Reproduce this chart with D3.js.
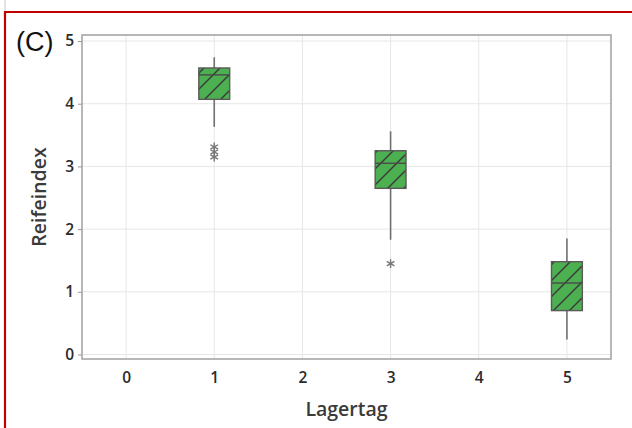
<!DOCTYPE html>
<html>
<head>
<meta charset="utf-8">
<script src="https://cdn.jsdelivr.net/npm/d3@7"></script>
<style>
  html, body { margin: 0; padding: 0; background: #fff; }
  svg { display: block; }
</style>
</head>
<body>
<svg id="chart" width="632" height="428"></svg>
<script>
// Reifeindex je Lagertag (Boxplots)
const days = [1, 3, 5];
const whiskerLow = [3.63, 1.83, 0.24];
const q1 = [4.07, 2.65, 0.70];
const medians = [4.46, 3.05, 1.14];
const q3 = [4.57, 3.25, 1.48];
const whiskerHigh = [4.74, 3.56, 1.85];
const outlierDays = [1, 1, 1, 3];
const outlierValues = [3.31, 3.23, 3.15, 1.45];
const xTicks = [0, 1, 2, 3, 4, 5];
const yTicks = [0, 1, 2, 3, 4, 5];

const svg = d3.select("#chart");
const plotLeft = 82, plotRight = 611, plotTop = 35, plotBottom = 359;

const x = d3.scaleLinear().domain([-0.5, 5.5]).range([plotLeft, plotRight]);
const y = d3.scaleLinear().domain([-0.072, 5.096]).range([plotBottom, plotTop]);

// panel frame
svg.append("line").attr("x1", 5).attr("x2", 5).attr("y1", 0).attr("y2", 12)
  .attr("stroke", "#c8c8c8").attr("stroke-width", 1);
svg.append("path").attr("d", "M5,428 L5,12 L632,12")
  .attr("fill", "none").attr("stroke", "#c00000").attr("stroke-width", 2.2);

svg.append("text").attr("x", 16).attr("y", 51)
  .attr("font-family", "Liberation Sans, Arial, sans-serif")
  .attr("font-size", 27).attr("fill", "#111").text("(C)");

// hatch pattern
const defs = svg.append("defs");
const pat = defs.append("pattern").attr("id", "hatch")
  .attr("patternUnits", "userSpaceOnUse").attr("width", 16).attr("height", 16);
pat.append("path").attr("d", "M0,16 L16,0 M-4,4 L4,-4 M12,20 L20,12")
  .attr("stroke", "#3c3c3c").attr("stroke-width", 1.5);

// gridlines
const grid = svg.append("g");
grid.selectAll(".gx").data(xTicks).join("line")
  .attr("x1", d => x(d)).attr("x2", d => x(d)).attr("y1", plotTop).attr("y2", plotBottom)
  .attr("stroke", "#e6e6e6").attr("stroke-width", 1);
grid.selectAll(".gy").data(yTicks).join("line")
  .attr("x1", plotLeft).attr("x2", plotRight).attr("y1", d => y(d)).attr("y2", d => y(d))
  .attr("stroke", "#e6e6e6").attr("stroke-width", 1);

// axes
const tickFont = g => g.selectAll("text")
  .attr("font-family", "Open Sans, sans-serif").attr("font-weight", 600)
  .attr("font-size", 15.5).attr("fill", "#2b2b2b");

const yAxis = svg.append("g").attr("transform", `translate(${plotLeft},0)`)
  .call(d3.axisLeft(y).tickValues(yTicks).tickSize(4).tickPadding(4).tickFormat(d3.format("d")));
yAxis.select(".domain").remove();
yAxis.selectAll("line").attr("stroke", "#999");
yAxis.call(tickFont);

const xAxis = svg.append("g").attr("transform", `translate(0,${plotBottom})`)
  .call(d3.axisBottom(x).tickValues(xTicks).tickSize(0).tickPadding(13).tickFormat(d3.format("d")));
xAxis.select(".domain").remove();
xAxis.call(tickFont);

// plot border
svg.append("rect").attr("x", plotLeft).attr("y", plotTop)
  .attr("width", plotRight - plotLeft).attr("height", plotBottom - plotTop)
  .attr("fill", "none").attr("stroke", "#a0a0a0").attr("stroke-width", 1.5);

// axis titles
svg.append("text").attr("transform", `translate(46,${(plotTop + plotBottom) / 2}) rotate(-90)`)
  .attr("text-anchor", "middle")
  .attr("font-family", "Open Sans, sans-serif").attr("font-weight", 600)
  .attr("font-size", 19.5).attr("fill", "#3a3a3a").text("Reifeindex");
svg.append("text").attr("x", (plotLeft + plotRight) / 2).attr("y", 416)
  .attr("text-anchor", "middle")
  .attr("font-family", "Open Sans, sans-serif").attr("font-weight", 600)
  .attr("font-size", 19.5).attr("fill", "#3a3a3a").text("Lagertag");

// boxplots
const half = 0.175;
const boxes = svg.append("g");
days.forEach((d, i) => {
  const g = boxes.append("g");
  g.append("line").attr("x1", x(d)).attr("x2", x(d))
    .attr("y1", y(whiskerHigh[i])).attr("y2", y(q3[i]))
    .attr("stroke", "#707070").attr("stroke-width", 1.6);
  g.append("line").attr("x1", x(d)).attr("x2", x(d))
    .attr("y1", y(q1[i])).attr("y2", y(whiskerLow[i]))
    .attr("stroke", "#707070").attr("stroke-width", 1.6);
  const bx = x(d - half), bw = x(d + half) - x(d - half);
  g.append("rect").attr("x", bx).attr("y", y(q3[i]))
    .attr("width", bw).attr("height", y(q1[i]) - y(q3[i]))
    .attr("fill", "#4caf50");
  g.append("rect").attr("x", bx).attr("y", y(q3[i]))
    .attr("width", bw).attr("height", y(q1[i]) - y(q3[i]))
    .attr("fill", "url(#hatch)").attr("stroke", "#5a5a5a").attr("stroke-width", 1.4);
  g.append("line").attr("x1", bx).attr("x2", bx + bw)
    .attr("y1", y(medians[i])).attr("y2", y(medians[i]))
    .attr("stroke", "#4a4a4a").attr("stroke-width", 1.4);
});

// outliers
const sym = d3.symbol().type(d3.symbolAsterisk).size(55);
svg.append("g").selectAll("path").data(outlierValues).join("path")
  .attr("transform", (v, i) => `translate(${x(outlierDays[i])},${y(v)})`)
  .attr("d", sym).attr("fill", "none").attr("stroke", "#777").attr("stroke-width", 1.4);
</script>
</body>
</html>
